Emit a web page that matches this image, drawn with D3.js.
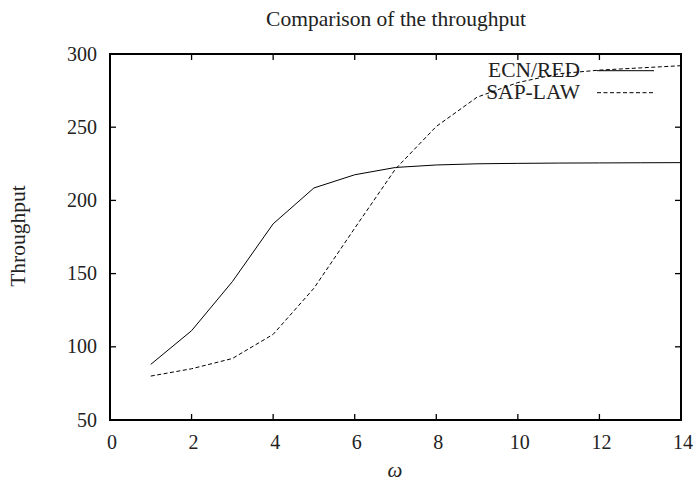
<!DOCTYPE html>
<html>
<head>
<meta charset="utf-8">
<script src="https://d3js.org/d3.v7.min.js"></script>
<style>
  body { margin: 0; background: #fff; }
  text { font-family: "Liberation Serif", "DejaVu Serif", serif; fill: #222; }
</style>
</head>
<body>
<div id="chart"></div>
<script>
// omega values on the x axis
const omega = [1, 2, 3, 4, 5, 6, 7, 8, 9, 10, 11, 12, 13, 14];
// throughput of each scheme
const ecnRed = [88, 111, 144.5, 184, 208.5, 217.5, 222.5, 224.2, 225, 225.3, 225.5, 225.6, 225.7, 225.8];
const sapLaw = [80, 85, 92, 108.5, 140, 181, 221.5, 250.5, 270.5, 280.5, 286.5, 289, 290.5, 292];
const xTicks = [0, 2, 4, 6, 8, 10, 12, 14];
const yTicks = [50, 100, 150, 200, 250, 300];

const width = 696;
const height = 483;
const plotL = 110, plotR = 681, plotT = 54, plotB = 420;

const svg = d3.select('#chart').append('svg')
  .attr('width', width)
  .attr('height', height);

const x = d3.scaleLinear().domain([0, 14]).range([plotL, plotR]);
const y = d3.scaleLinear().domain([50, 300]).range([plotB, plotT]);

// ticks on all four sides, pointing inward
const tickLen = 6;
xTicks.forEach(t => {
  if (t === 0 || t === 14) return;
  svg.append('line').attr('x1', x(t)).attr('x2', x(t)).attr('y1', plotB).attr('y2', plotB - tickLen)
    .attr('stroke', '#000').attr('stroke-width', 1.3);
  svg.append('line').attr('x1', x(t)).attr('x2', x(t)).attr('y1', plotT).attr('y2', plotT + tickLen)
    .attr('stroke', '#000').attr('stroke-width', 1.3);
});
yTicks.forEach(t => {
  if (t === 50 || t === 300) return;
  svg.append('line').attr('x1', plotL).attr('x2', plotL + tickLen).attr('y1', y(t)).attr('y2', y(t))
    .attr('stroke', '#000').attr('stroke-width', 1.3);
  svg.append('line').attr('x1', plotR).attr('x2', plotR - tickLen).attr('y1', y(t)).attr('y2', y(t))
    .attr('stroke', '#000').attr('stroke-width', 1.3);
});

// tick labels
svg.selectAll('.xl').data(xTicks).enter().append('text')
  .attr('x', d => x(d) + 2)
  .attr('y', 449)
  .attr('text-anchor', 'middle')
  .attr('font-size', 20)
  .text(d => d);

svg.selectAll('.yl').data(yTicks).enter().append('text')
  .attr('x', 97)
  .attr('y', d => y(d) + 6.5)
  .attr('text-anchor', 'end')
  .attr('font-size', 20)
  .text(d => d);

// titles
svg.append('text').attr('x', 396).attr('y', 26).attr('text-anchor', 'middle')
  .attr('font-size', 21.5).text('Comparison of the throughput');
svg.append('text').attr('transform', 'translate(25,236) rotate(-90)').attr('text-anchor', 'middle')
  .attr('font-size', 21.5).text('Throughput');
svg.append('text').attr('x', 395).attr('y', 477).attr('text-anchor', 'middle')
  .attr('font-size', 21).attr('font-style', 'italic').text('ω');

// legend
const legend = [
  { name: 'ECN/RED', dash: null, y: 70.7 },
  { name: 'SAP-LAW', dash: '4,2.5', y: 92.7 }
];
legend.forEach(l => {
  svg.append('text').attr('x', 580).attr('y', l.y + 6).attr('text-anchor', 'end')
    .attr('font-size', 21.5).text(l.name);
  svg.append('line').attr('x1', 597).attr('x2', 654).attr('y1', l.y).attr('y2', l.y)
    .attr('stroke', '#000').attr('stroke-width', 1)
    .attr('stroke-dasharray', l.dash);
});

const line = d3.line().x(d => x(d[0])).y(d => y(d[1]));

svg.append('path')
  .datum(omega.map((o, i) => [o, ecnRed[i]]))
  .attr('d', line)
  .attr('fill', 'none')
  .attr('stroke', '#000')
  .attr('stroke-width', 1);

svg.append('path')
  .datum(omega.map((o, i) => [o, sapLaw[i]]))
  .attr('d', line)
  .attr('fill', 'none')
  .attr('stroke', '#000')
  .attr('stroke-width', 1)
  .attr('stroke-dasharray', '4,2.5');

// frame
svg.append('rect')
  .attr('x', plotL).attr('y', plotT)
  .attr('width', plotR - plotL).attr('height', plotB - plotT)
  .attr('fill', 'none')
  .attr('stroke', '#000')
  .attr('stroke-width', 2);
</script>
</body>
</html>
